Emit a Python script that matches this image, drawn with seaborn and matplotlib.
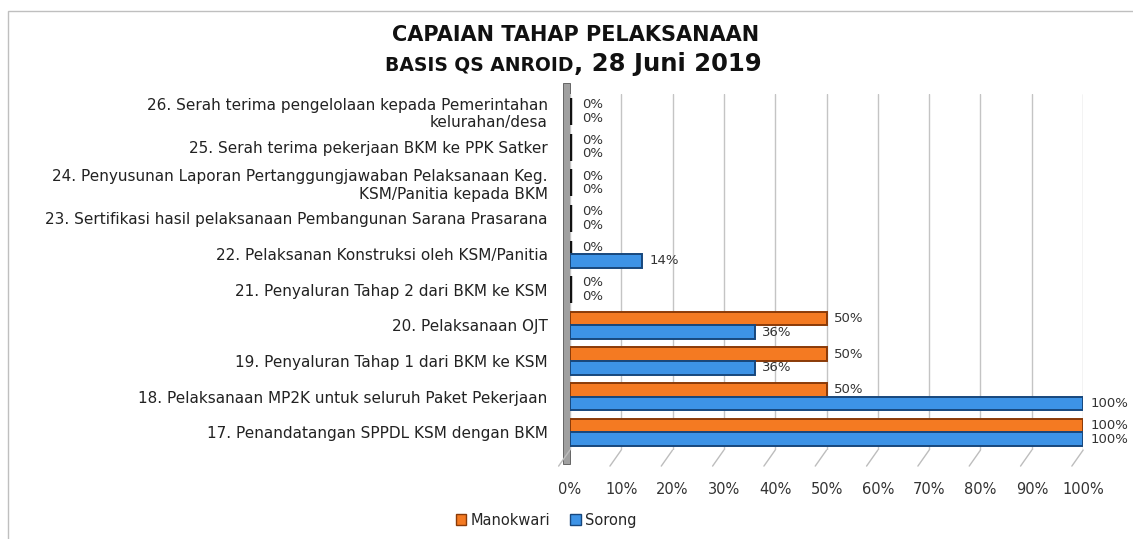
import matplotlib
matplotlib.use("Agg")
import matplotlib.pyplot as plt
import seaborn as sns
import pandas as pd
from matplotlib.patches import Rectangle
from matplotlib.lines import Line2D

# --- data (top to bottom as shown) ---
categories = [
    "26. Serah terima pengelolaan kepada Pemerintahan\nkelurahan/desa",
    "25. Serah terima pekerjaan BKM ke PPK Satker",
    "24. Penyusunan Laporan Pertanggungjawaban Pelaksanaan Keg.\nKSM/Panitia kepada BKM",
    "23. Sertifikasi hasil pelaksanaan Pembangunan Sarana Prasarana",
    "22. Pelaksanan Konstruksi oleh KSM/Panitia",
    "21. Penyaluran Tahap 2 dari BKM ke KSM",
    "20. Pelaksanaan OJT",
    "19. Penyaluran Tahap 1 dari BKM ke KSM",
    "18. Pelaksanaan MP2K untuk seluruh Paket Pekerjaan",
    "17. Penandatangan SPPDL KSM dengan BKM",
]
manokwari = [0, 0, 0, 0, 0, 0, 50, 50, 50, 100]
sorong = [0, 0, 0, 0, 14, 0, 36, 36, 100, 100]
series_names = ["Manokwari", "Sorong"]
x_ticks = [0, 10, 20, 30, 40, 50, 60, 70, 80, 90, 100]

colors = {"Manokwari": "#F47A22", "Sorong": "#3D93E6"}
edges = {"Manokwari": "#8A3A08", "Sorong": "#17477D"}

df = pd.DataFrame({
    "tahap": categories * 2,
    "nilai": manokwari + sorong,
    "kota": ["Manokwari"] * len(categories) + ["Sorong"] * len(categories),
})

sns.set_style("white")
plt.rcParams["font.family"] = ["DejaVu Sans"]

fig = plt.figure(figsize=(11.33, 5.39), dpi=100)
ax = fig.add_axes([0.503, 0.165, 0.453, 0.661])

sns.barplot(data=df, x="nilai", y="tahap", hue="kota", orient="h",
            hue_order=series_names, palette=colors, width=0.76, saturation=1,
            dodge=True, legend=False, ax=ax)

# edges per series; zero values show as dark marks like the original
for cont, name in zip(ax.containers, series_names):
    vals = manokwari if name == "Manokwari" else sorong
    for bar, v in zip(cont, vals):
        if v == 0:
            bar.set_edgecolor("#111111")
            bar.set_linewidth(3.2)
        else:
            bar.set_edgecolor(edges[name])
            bar.set_linewidth(1.4)
        yc = bar.get_y() + bar.get_height() / 2
        ax.text(v + 1.5 if v > 0 else 2.4, yc, f"{v}%", va="center", ha="left",
                fontsize=9.5, color="#333333", clip_on=False)

ax.set_xlim(0, 100)
ax.set_xticks(x_ticks)
ax.set_xticklabels([f"{t}%" for t in x_ticks], fontsize=10.5, color="#333333")
ax.tick_params(axis="x", length=0, pad=23)
ax.tick_params(axis="y", length=0, pad=16, labelsize=11, labelcolor="#222222")
ax.set_xlabel("")
ax.set_ylabel("")
ax.grid(axis="x", color="#C4C4C4", linewidth=1.0)
ax.set_axisbelow(True)
for s in ax.spines.values():
    s.set_visible(False)

# gray side wall + floor ticks (3D look)
ax.add_patch(Rectangle((-0.014, -0.04), 0.014, 1.07, transform=ax.transAxes,
                       facecolor="#A0A0A0", edgecolor="#555555", linewidth=0.6,
                       clip_on=False, zorder=0))
for t in x_ticks:
    xa = t / 100
    ax.add_line(Line2D([xa, xa - 0.022], [0, -0.045], transform=ax.transAxes,
                       color="#BDBDBD", linewidth=1.0, clip_on=False))

# legend
handles = [Rectangle((0, 0), 1, 1, facecolor=colors[n], edgecolor=edges[n]) for n in series_names]
fig.legend(handles, series_names, loc="center", bbox_to_anchor=(0.482, 0.035),
           ncol=2, frameon=False, fontsize=10.5, handlelength=0.7, handleheight=0.7,
           handletextpad=0.3, columnspacing=1.4)

# title (two lines, second with mixed sizes)
fig.text(0.508, 0.935, "CAPAIAN TAHAP PELAKSANAAN", ha="center", va="center",
         fontsize=15, fontweight="bold", color="#111111")
fig.canvas.draw()
r = fig.canvas.get_renderer()
ta = fig.text(0, 0.869, "BASIS QS ANROID", ha="left", va="baseline",
              fontsize=13.5, fontweight="bold", color="#111111")
tb = fig.text(0, 0.869, ", 28 Juni 2019", ha="left", va="baseline",
              fontsize=17.5, fontweight="bold", color="#111111")
wa = ta.get_window_extent(r).width
wb = tb.get_window_extent(r).width
W = fig.bbox.width
x0 = 0.506 - (wa + wb) / 2 / W
ta.set_x(x0)
tb.set_x(x0 + wa / W)

# outer frame
fig.add_artist(Rectangle((0.007, -0.01), 1.0, 0.99, transform=fig.transFigure,
                         facecolor="none", edgecolor="#BFBFBF", linewidth=1.0))

fig.savefig("out.png", dpi=100)
